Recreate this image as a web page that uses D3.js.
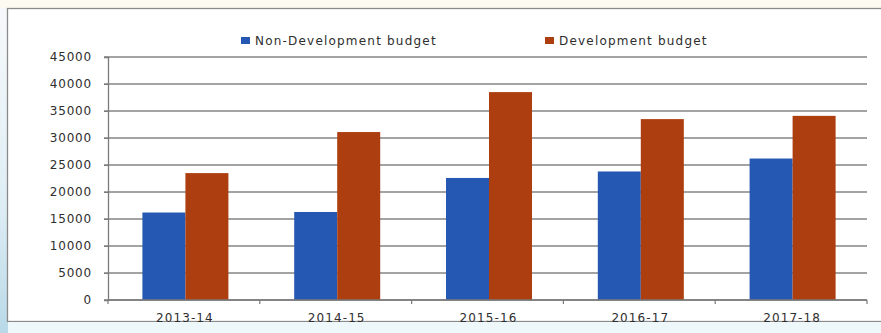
<!DOCTYPE html>
<html>
<head>
<meta charset="utf-8">
<script src="https://cdn.jsdelivr.net/npm/d3@7/dist/d3.min.js"></script>
<style>
  html, body { margin: 0; padding: 0; background: #fff; }
  svg { display: block; }
  text { font-family: "DejaVu Sans", sans-serif; fill: #2e2e2e; }
</style>
</head>
<body>
<svg id="chart" width="881" height="333"></svg>
<script>
// Budget by year (values in the chart's units)
const years = ["2013-14", "2014-15", "2015-16", "2016-17", "2017-18"];
const seriesNames = ["Non-Development budget", "Development budget"];
const nonDevelopment = [16200, 16300, 22600, 23800, 26200];
const development = [23500, 31100, 38500, 33500, 34100];
const yTicks = [0, 5000, 10000, 15000, 20000, 25000, 30000, 35000, 40000, 45000];
const colors = ["#2558b2", "#ad3e10"];

const svg = d3.select("#chart");
const W = 881, H = 333;
const margin = { left: 108, right: 14, top: 57, bottom: 33 };

// soft photographed backdrop around the framed chart
const defs = svg.append("defs");
const sky = defs.append("linearGradient").attr("id", "sky").attr("x1", 0).attr("y1", 0).attr("x2", 0).attr("y2", 1);
sky.append("stop").attr("offset", "0").attr("stop-color", "#f7f9fb");
sky.append("stop").attr("offset", "0.6").attr("stop-color", "#dfeef5");
sky.append("stop").attr("offset", "1").attr("stop-color", "#b9d9e8");
svg.append("rect").attr("width", W).attr("height", H).attr("fill", "url(#sky)");
svg.append("rect").attr("x", 0).attr("y", 0).attr("width", W).attr("height", 8).attr("fill", "#fdfbf1");

// chart frame
svg.append("rect")
  .attr("x", 7.5).attr("y", 8.5).attr("width", W).attr("height", 313)
  .attr("fill", "#ffffff").attr("stroke", "#8a8a8a").attr("stroke-width", 1.3);
svg.append("rect").attr("x", 8).attr("y", 322).attr("width", W).attr("height", 11).attr("fill", "#eef8fa");

const data = years.map((y, i) => ({ year: y, values: [nonDevelopment[i], development[i]] }));

const x0 = d3.scaleBand().domain(years).range([margin.left, W - margin.right]).padding(0);
const x1 = d3.scaleBand().domain(seriesNames).range([0, x0.bandwidth()]).paddingInner(0).paddingOuter(0.765);
const y = d3.scaleLinear().domain([0, 45000]).range([H - margin.bottom, margin.top]);

const soft = defs.append("filter").attr("id", "soft");
soft.append("feGaussianBlur").attr("stdDeviation", 0.35);

// horizontal gridlines with tick stubs on the left
svg.append("g").attr("filter", "url(#soft)")
  .selectAll("line").data(yTicks).join("line")
  .attr("x1", margin.left - 4).attr("x2", W - margin.right)
  .attr("y1", d => y(d)).attr("y2", d => y(d))
  .attr("stroke", "#858585").attr("stroke-width", 1.4);

// y axis labels
const yAxis = d3.axisLeft(y).tickValues(yTicks).tickSize(4).tickPadding(12).tickFormat(d3.format("d"));
const gy = svg.append("g").attr("transform", `translate(${margin.left},0)`).call(yAxis);
gy.select(".domain").attr("stroke", "#7a7a7a").attr("stroke-width", 1.3);
gy.selectAll(".tick line").attr("stroke", "#7a7a7a");
gy.selectAll("text").style("font-size", "12px").style("letter-spacing", "0.8px").attr("fill", "#2e2e2e");

// bars
svg.append("g").selectAll("g").data(data).join("g")
  .attr("transform", d => `translate(${x0(d.year) + 1.5},0)`)
  .selectAll("rect").data(d => d.values.map((v, i) => ({ key: seriesNames[i], v, i })))
  .join("rect")
  .attr("x", d => x1(d.key)).attr("width", x1.bandwidth())
  .attr("y", d => y(d.v)).attr("height", d => y(0) - y(d.v))
  .attr("fill", d => colors[d.i]);

// x axis with ticks at category boundaries
const gx = svg.append("g").attr("transform", `translate(0,${y(0)})`);
gx.append("line").attr("x1", margin.left).attr("x2", W - margin.right)
  .attr("stroke", "#7a7a7a").attr("stroke-width", 1.4);
const bounds = years.map(d => x0(d)).concat([x0(years[years.length - 1]) + x0.bandwidth()]);
gx.selectAll(".bt").data(bounds).join("line").attr("class", "bt")
  .attr("x1", d => d).attr("x2", d => d).attr("y1", 0).attr("y2", 4)
  .attr("stroke", "#7a7a7a").attr("stroke-width", 1.2);
gx.selectAll(".lbl").data(years).join("text").attr("class", "lbl")
  .attr("x", d => x0(d) + x0.bandwidth() / 2 + 1).attr("y", 22)
  .attr("text-anchor", "middle").style("font-size", "12px").style("letter-spacing", "1.1px")
  .text(d => d);

// legend
const legendX = [241, 545];
const lg = svg.append("g").selectAll("g").data(seriesNames).join("g")
  .attr("transform", (d, i) => `translate(${legendX[i]},37)`);
lg.append("rect").attr("width", 9).attr("height", 7).attr("fill", (d, i) => colors[i]);
lg.append("text").attr("x", 14).attr("y", 7.5)
  .style("font-size", "12px").style("letter-spacing", "1.2px").text(d => d);
</script>
</body>
</html>
